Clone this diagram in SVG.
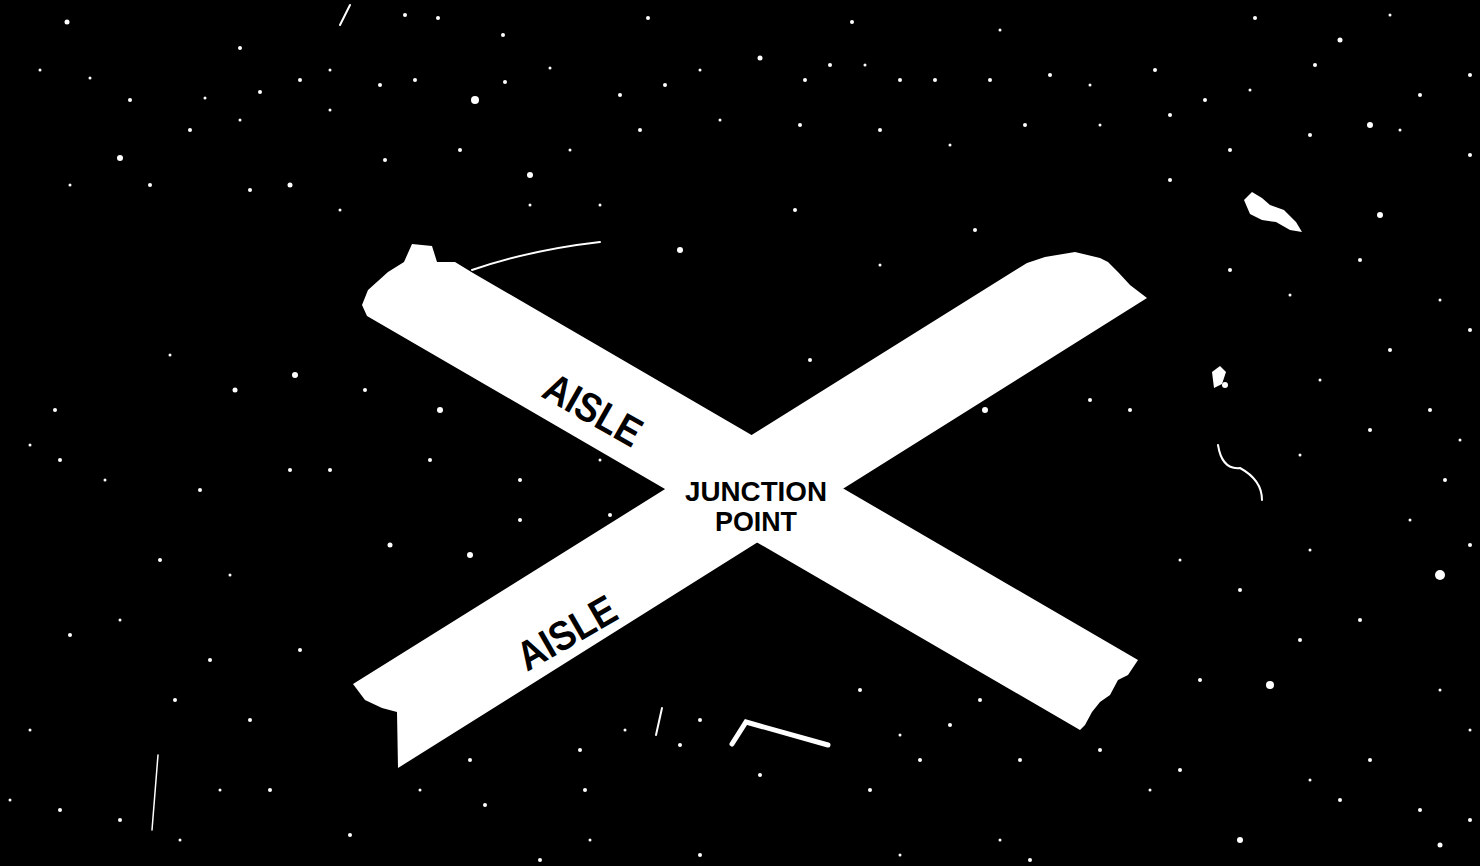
<svg xmlns="http://www.w3.org/2000/svg" width="1480" height="866" viewBox="0 0 1480 866">
<style>
.bg{fill:#000}
.band{fill:#fff}
.lbl{font-family:"Liberation Sans",Arial,sans-serif;font-weight:bold;fill:#000}
.sp circle,.sp polygon{fill:#fff}
.ln{fill:none;stroke:#fff;stroke-linecap:round}
</style>
<rect class="bg" x="0" y="0" width="1480" height="866"/>
<g id="specks" class="sp">
<circle cx="67" cy="22" r="2.5"/><circle cx="405" cy="15" r="2"/><circle cx="438" cy="18" r="2"/><circle cx="503" cy="35" r="2"/><circle cx="648" cy="18" r="2"/><circle cx="852" cy="22" r="2"/><circle cx="1000" cy="30" r="1.5"/><circle cx="1255" cy="18" r="2"/><circle cx="1340" cy="40" r="2.5"/><circle cx="1390" cy="15" r="1.5"/>
<circle cx="240" cy="48" r="2"/><circle cx="130" cy="100" r="2"/><circle cx="205" cy="98" r="1.5"/><circle cx="260" cy="92" r="2"/><circle cx="300" cy="80" r="2"/><circle cx="330" cy="70" r="1.5"/><circle cx="380" cy="85" r="2"/><circle cx="415" cy="80" r="2"/><circle cx="475" cy="100" r="4"/><circle cx="505" cy="82" r="2"/><circle cx="550" cy="68" r="1.5"/><circle cx="620" cy="95" r="2"/><circle cx="665" cy="85" r="2"/><circle cx="700" cy="70" r="1.5"/><circle cx="760" cy="58" r="2.5"/><circle cx="805" cy="80" r="2"/><circle cx="830" cy="65" r="2"/><circle cx="865" cy="65" r="1.5"/><circle cx="900" cy="80" r="2"/><circle cx="935" cy="80" r="2"/><circle cx="990" cy="80" r="2"/><circle cx="1050" cy="75" r="2"/><circle cx="1090" cy="85" r="1.5"/><circle cx="1155" cy="70" r="2"/><circle cx="1205" cy="100" r="2"/><circle cx="1250" cy="90" r="1.5"/><circle cx="1315" cy="65" r="2"/><circle cx="1370" cy="125" r="3"/><circle cx="1420" cy="95" r="2"/><circle cx="1470" cy="75" r="2"/><circle cx="90" cy="78" r="1.5"/><circle cx="40" cy="70" r="1.5"/>
<circle cx="120" cy="158" r="3"/><circle cx="190" cy="130" r="2"/><circle cx="240" cy="120" r="1.5"/><circle cx="330" cy="110" r="1.5"/><circle cx="385" cy="160" r="2"/><circle cx="460" cy="150" r="2"/><circle cx="530" cy="175" r="3"/><circle cx="570" cy="150" r="1.5"/><circle cx="640" cy="130" r="2"/><circle cx="720" cy="120" r="1.5"/><circle cx="800" cy="125" r="2"/><circle cx="880" cy="130" r="2"/><circle cx="950" cy="145" r="1.5"/><circle cx="1025" cy="125" r="2"/><circle cx="1100" cy="125" r="1.5"/><circle cx="1170" cy="115" r="2"/><circle cx="1230" cy="150" r="2"/><circle cx="1310" cy="135" r="2"/><circle cx="1400" cy="130" r="1.5"/><circle cx="1470" cy="155" r="2"/>
<circle cx="1380" cy="215" r="3"/><circle cx="1170" cy="180" r="2"/><circle cx="70" cy="185" r="1.5"/><circle cx="150" cy="185" r="2"/><circle cx="250" cy="190" r="2"/><circle cx="290" cy="185" r="2.5"/><circle cx="340" cy="210" r="1.5"/><circle cx="530" cy="205" r="1.5"/><circle cx="600" cy="205" r="1.5"/><circle cx="680" cy="250" r="3"/><circle cx="795" cy="210" r="2"/><circle cx="880" cy="265" r="1.5"/><circle cx="975" cy="230" r="2"/><circle cx="1230" cy="270" r="2"/><circle cx="1290" cy="295" r="1.5"/><circle cx="1360" cy="260" r="2"/><circle cx="1440" cy="300" r="1.5"/><circle cx="1470" cy="330" r="2"/>
<circle cx="55" cy="410" r="2"/><circle cx="170" cy="355" r="1.5"/><circle cx="235" cy="390" r="2.5"/><circle cx="295" cy="375" r="3"/><circle cx="365" cy="390" r="2"/><circle cx="440" cy="410" r="3"/><circle cx="520" cy="520" r="2"/><circle cx="610" cy="515" r="2"/><circle cx="810" cy="360" r="2"/><circle cx="870" cy="380" r="1.5"/><circle cx="985" cy="410" r="3"/><circle cx="1090" cy="400" r="2"/><circle cx="1130" cy="410" r="2"/><circle cx="1225" cy="385" r="3"/><circle cx="1320" cy="380" r="1.5"/><circle cx="1390" cy="350" r="2"/><circle cx="1430" cy="410" r="2"/><circle cx="1460" cy="440" r="1.5"/>
<circle cx="1300" cy="455" r="1.5"/><circle cx="1370" cy="430" r="2"/><circle cx="1445" cy="480" r="2"/><circle cx="1410" cy="520" r="1.5"/><circle cx="1440" cy="575" r="5"/><circle cx="1470" cy="545" r="2"/><circle cx="1310" cy="550" r="1.5"/><circle cx="1240" cy="590" r="2"/><circle cx="1180" cy="560" r="1.5"/><circle cx="1360" cy="620" r="2"/><circle cx="1300" cy="640" r="2"/><circle cx="1270" cy="685" r="4"/><circle cx="1200" cy="680" r="2"/><circle cx="1440" cy="690" r="1.5"/><circle cx="1370" cy="760" r="2"/><circle cx="1420" cy="810" r="2"/><circle cx="1440" cy="845" r="2.5"/><circle cx="1470" cy="820" r="2"/><circle cx="1470" cy="730" r="1.5"/>
<circle cx="30" cy="445" r="1.5"/><circle cx="60" cy="460" r="2"/><circle cx="105" cy="480" r="1.5"/><circle cx="160" cy="560" r="2"/><circle cx="200" cy="490" r="2"/><circle cx="230" cy="575" r="1.5"/><circle cx="290" cy="470" r="2"/><circle cx="330" cy="470" r="2"/><circle cx="390" cy="545" r="2.5"/><circle cx="430" cy="460" r="2"/><circle cx="470" cy="555" r="3"/><circle cx="520" cy="480" r="2"/><circle cx="600" cy="460" r="1.5"/><circle cx="630" cy="555" r="2"/><circle cx="120" cy="620" r="1.5"/><circle cx="70" cy="635" r="2"/><circle cx="175" cy="700" r="2"/><circle cx="210" cy="660" r="2"/><circle cx="250" cy="720" r="2"/><circle cx="270" cy="790" r="2"/><circle cx="300" cy="650" r="2"/><circle cx="220" cy="790" r="1.5"/><circle cx="120" cy="820" r="2"/><circle cx="180" cy="840" r="1.5"/><circle cx="60" cy="810" r="2"/><circle cx="30" cy="730" r="1.5"/><circle cx="10" cy="800" r="1.5"/>
<circle cx="580" cy="750" r="2"/><circle cx="585" cy="790" r="2"/><circle cx="625" cy="730" r="1.5"/><circle cx="680" cy="745" r="2"/><circle cx="700" cy="720" r="2"/><circle cx="760" cy="775" r="2"/><circle cx="870" cy="790" r="2"/><circle cx="920" cy="760" r="2"/><circle cx="950" cy="725" r="2"/><circle cx="980" cy="700" r="2"/><circle cx="1020" cy="760" r="2"/><circle cx="860" cy="690" r="2"/><circle cx="900" cy="735" r="1.5"/><circle cx="1100" cy="750" r="2"/><circle cx="1150" cy="790" r="1.5"/><circle cx="1180" cy="770" r="2"/><circle cx="1240" cy="840" r="3"/><circle cx="1310" cy="780" r="1.5"/><circle cx="1340" cy="800" r="2"/><circle cx="1000" cy="840" r="1.5"/><circle cx="700" cy="855" r="2"/><circle cx="590" cy="840" r="1.5"/><circle cx="540" cy="860" r="2"/><circle cx="485" cy="805" r="2"/><circle cx="470" cy="760" r="2"/><circle cx="420" cy="790" r="1.5"/><circle cx="350" cy="835" r="2"/><circle cx="900" cy="855" r="1.5"/><circle cx="1030" cy="860" r="2"/>
<polygon points="1244,200 1252,192 1262,198 1270,205 1284,210 1296,222 1302,232 1290,230 1276,222 1262,220 1250,214"/>
<polygon points="1212,372 1220,366 1226,372 1222,384 1214,388"/>
</g>
<g id="marks">
<path class="ln" stroke-width="2" d="M472 270 Q530 250 600 242"/>
<path class="ln" stroke-width="1.5" d="M158 755 L152 830"/>
<path class="ln" stroke-width="5" d="M732 744 L746 722 L828 745"/>
<path class="ln" stroke-width="2" d="M662 708 L656 735"/>
<path class="ln" stroke-width="2" d="M1218 445 Q1222 470 1240 468 Q1262 480 1262 500"/>
<path class="ln" stroke-width="2" d="M350 5 L340 25"/>
</g>
<g id="aisle-1">
<polygon class="band" points="473,273 455,262 437,262 432,246 412,244 404,262 388,272 368,290 362,305 367,316 1080,730 1085,725 1092,712 1100,702 1110,695 1118,680 1128,675 1138,660"/>
<text class="lbl" x="540" y="396" font-size="41" textLength="106" lengthAdjust="spacingAndGlyphs" transform="rotate(29.5 540 396)">AISLE</text>
</g>
<g id="aisle-2">
<polygon class="band" points="353,684 1027,263 1045,257 1075,252 1100,258 1108,262 1118,272 1130,285 1147,298 398,768 397,712 382,708 365,700"/>
<text class="lbl" x="527" y="672" font-size="41" textLength="108" lengthAdjust="spacingAndGlyphs" transform="rotate(-30 527 672)">AISLE</text>
</g>
<g id="junction-point">
<text class="lbl" font-size="28" text-anchor="middle"><tspan x="756" y="501" textLength="142" lengthAdjust="spacingAndGlyphs">JUNCTION</tspan><tspan x="756" y="531" textLength="82" lengthAdjust="spacingAndGlyphs">POINT</tspan></text>
</g>
</svg>
